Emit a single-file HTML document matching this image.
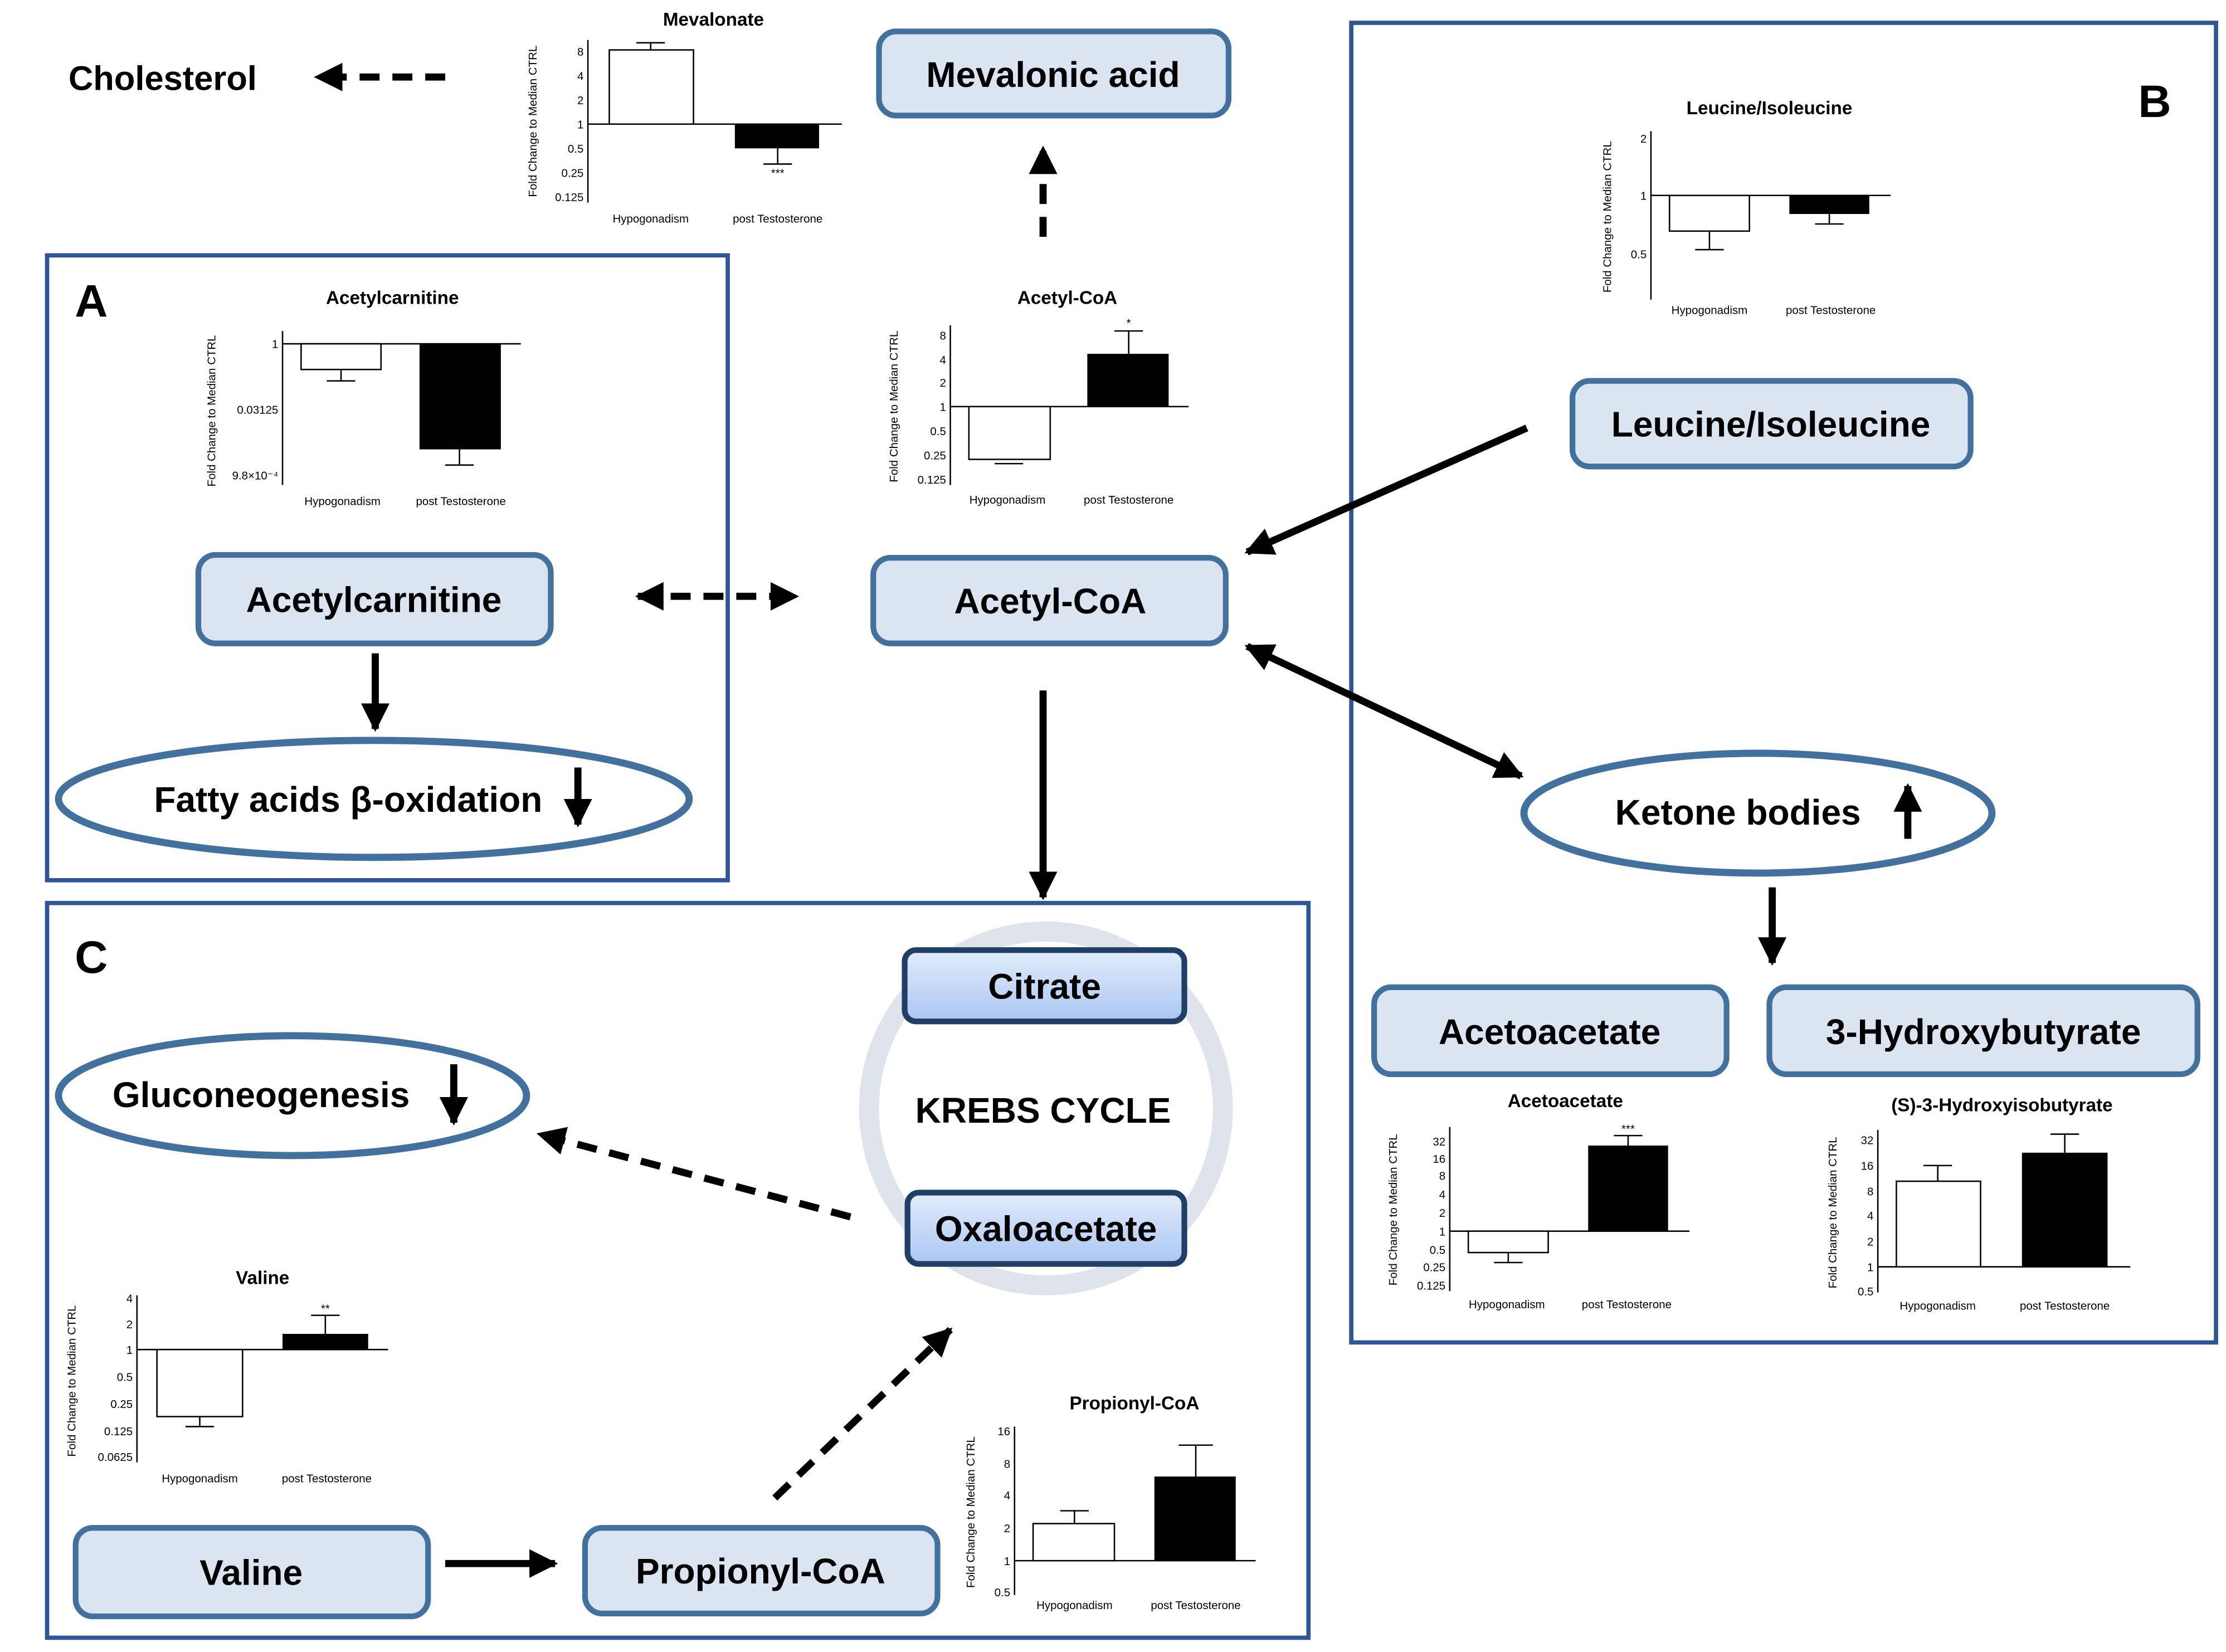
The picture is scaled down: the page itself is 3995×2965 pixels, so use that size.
<!DOCTYPE html>
<html><head><meta charset="utf-8"><style>
html,body{margin:0;padding:0;background:#fff}
svg{display:block}
text{font-family:"Liberation Sans",sans-serif}
.n{font-weight:bold;font-size:25px;text-anchor:middle}
.t{font-size:13px;text-anchor:middle;font-weight:bold}
.k{font-size:8px;text-anchor:end}
.l{font-size:8px;text-anchor:middle}
.ax{stroke:#000;stroke-width:1;fill:none}
.node{fill:#dbe5f1;stroke:#41719c;stroke-width:4}
.ell{fill:#fff;stroke:#41719c;stroke-width:5}
.pan{fill:none;stroke:#2f5597;stroke-width:3}
.ar{stroke:#000;stroke-width:5;fill:none}
.da{stroke:#000;stroke-width:5;fill:none;stroke-dasharray:14 9}
</style></head><body>
<svg width="3995" height="2965" viewBox="0 0 1560 1158" preserveAspectRatio="none" xmlns="http://www.w3.org/2000/svg">
<defs>
<marker id="h" viewBox="0 0 10 10" refX="9" refY="5" markerWidth="4" markerHeight="4" orient="auto-start-reverse" markerUnits="strokeWidth"><path d="M0,0L10,5L0,10z"/></marker>
<linearGradient id="g" x1="0" y1="0" x2="0" y2="1"><stop offset="0" stop-color="#e3ecfb"/><stop offset="1" stop-color="#a9c6f2"/></linearGradient>
</defs>
<rect x="0" y="0" width="1560" height="1158" fill="#fff"/>
<rect class="pan" x="33" y="179" width="477" height="438"/>
<rect class="pan" x="947" y="16" width="606" height="925"/>
<rect class="pan" x="33" y="633" width="884" height="515"/>
<text x="64" y="222" font-size="32" font-weight="bold" text-anchor="middle">A</text>
<text x="1510" y="82" font-size="32" font-weight="bold" text-anchor="middle">B</text>
<text x="64" y="682" font-size="32" font-weight="bold" text-anchor="middle">C</text>
<text x="114" y="63" font-size="24" font-weight="bold" text-anchor="middle">Cholesterol</text>

<circle cx="733" cy="777" r="124" fill="none" stroke="#dfe4ec" stroke-width="14"/>
<text x="731" y="787" class="n" font-size="24">KREBS CYCLE</text>

<rect class="node" x="616" y="22" width="245" height="59" rx="12"/><text class="n" x="738" y="61">Mevalonic acid</text>
<rect class="node" x="1102" y="267" width="279" height="60" rx="12"/><text class="n" x="1241" y="306">Leucine/Isoleucine</text>
<rect class="node" x="139" y="389" width="247" height="62" rx="12"/><text class="n" x="262" y="429">Acetylcarnitine</text>
<rect class="node" x="612" y="391" width="247" height="60" rx="12"/><text class="n" x="736" y="430">Acetyl-CoA</text>
<rect class="node" x="963" y="692" width="247" height="61" rx="12"/><text class="n" x="1086" y="732">Acetoacetate</text>
<rect class="node" x="1240" y="692" width="300" height="61" rx="12"/><text class="n" x="1390" y="732">3-Hydroxybutyrate</text>
<rect class="node" x="53" y="1071" width="247" height="62" rx="12"/><text class="n" x="176" y="1111">Valine</text>
<rect class="node" x="410" y="1071" width="247" height="60" rx="12"/><text class="n" x="533" y="1110">Propionyl-CoA</text>
<rect x="634" y="666" width="196" height="50" rx="8" fill="url(#g)" stroke="#1f3f66" stroke-width="4"/><text class="n" x="732" y="700">Citrate</text>
<rect x="636" y="836" width="194" height="50" rx="8" fill="url(#g)" stroke="#1f3f66" stroke-width="4"/><text class="n" x="733" y="870">Oxaloacetate</text>

<ellipse class="ell" cx="262" cy="560" rx="221" ry="41"/><text class="n" x="244" y="569">Fatty acids β-oxidation</text>
<ellipse class="ell" cx="1232" cy="570" rx="164" ry="42"/><text class="n" x="1218" y="578">Ketone bodies</text>
<ellipse class="ell" cx="205" cy="768" rx="164" ry="42"/><text class="n" x="183" y="776">Gluconeogenesis</text>
<line class="ar" x1="405" y1="538" x2="405" y2="578" marker-end="url(#h)"/>
<line class="ar" x1="1337" y1="588" x2="1337" y2="551" marker-end="url(#h)"/>
<line class="ar" x1="318" y1="746" x2="318" y2="787" marker-end="url(#h)"/>

<line class="da" x1="312" y1="54" x2="222" y2="54" marker-end="url(#h)"/>
<line class="da" x1="731" y1="166" x2="731" y2="104" marker-end="url(#h)"/>
<line class="da" x1="447" y1="418" x2="558" y2="418" marker-start="url(#h)" marker-end="url(#h)"/>
<line class="ar" x1="263" y1="458" x2="263" y2="511" marker-end="url(#h)"/>
<line class="ar" x1="1070" y1="300" x2="874" y2="387" marker-end="url(#h)"/>
<line class="ar" x1="874" y1="453" x2="1066" y2="544" marker-start="url(#h)" marker-end="url(#h)"/>
<line class="ar" x1="731" y1="484" x2="731" y2="629" marker-end="url(#h)"/>
<line class="ar" x1="1242" y1="622" x2="1242" y2="675" marker-end="url(#h)"/>
<line class="da" x1="596" y1="853" x2="378" y2="795" marker-end="url(#h)"/>
<line class="ar" x1="312" y1="1096" x2="389" y2="1096" marker-end="url(#h)"/>
<line class="da" x1="543" y1="1050" x2="666" y2="932" marker-end="url(#h)"/>

<g>
<text class="t" x="500" y="18">Mevalonate</text>
<line class="ax" x1="412" y1="28" x2="412" y2="142"/><line class="ax" x1="412" y1="87" x2="590" y2="87"/>
<text class="k" x="409" y="39">8</text><text class="k" x="409" y="56">4</text><text class="k" x="409" y="73">2</text><text class="k" x="409" y="90">1</text><text class="k" x="409" y="107">0.5</text><text class="k" x="409" y="124">0.25</text><text class="k" x="409" y="141">0.125</text>
<rect x="427" y="35" width="59" height="52" fill="#fff" stroke="#000"/><line class="ax" x1="456" y1="35" x2="456" y2="30"/><line class="ax" x1="446" y1="30" x2="466" y2="30"/>
<rect x="515" y="87" width="59" height="17" fill="#000"/><line class="ax" x1="545" y1="104" x2="545" y2="115"/><line class="ax" x1="535" y1="115" x2="555" y2="115"/>
<text class="l" x="545" y="124" font-size="6">***</text>
<text class="l" x="456" y="156">Hypogonadism</text><text class="l" x="545" y="156">post Testosterone</text>
<text class="l" transform="translate(376,85) rotate(-90)">Fold  Change to  Median CTRL</text>
</g>

<g>
<text class="t" x="275" y="213">Acetylcarnitine</text>
<line class="ax" x1="198" y1="232" x2="198" y2="340"/><line class="ax" x1="198" y1="241" x2="365" y2="241"/>
<text class="k" x="195" y="244">1</text><text class="k" x="195" y="290">0.03125</text><text class="k" x="195" y="336">9.8×10⁻⁴</text>
<rect x="211" y="241" width="56" height="18" fill="#fff" stroke="#000"/><line class="ax" x1="239" y1="259" x2="239" y2="267"/><line class="ax" x1="229" y1="267" x2="249" y2="267"/>
<rect x="294" y="241" width="57" height="74" fill="#000"/><line class="ax" x1="322" y1="315" x2="322" y2="326"/><line class="ax" x1="312" y1="326" x2="332" y2="326"/>
<text class="l" x="240" y="354">Hypogonadism</text><text class="l" x="323" y="354">post Testosterone</text>
<text class="l" transform="translate(151,288) rotate(-90)">Fold  Change to  Median CTRL</text>
</g>

<g>
<text class="t" x="748" y="213">Acetyl-CoA</text>
<line class="ax" x1="666" y1="228" x2="666" y2="340"/><line class="ax" x1="666" y1="285" x2="833" y2="285"/>
<text class="k" x="663" y="238">8</text><text class="k" x="663" y="255">4</text><text class="k" x="663" y="271">2</text><text class="k" x="663" y="288">1</text><text class="k" x="663" y="305">0.5</text><text class="k" x="663" y="322">0.25</text><text class="k" x="663" y="339">0.125</text>
<rect x="679" y="285" width="57" height="37" fill="#fff" stroke="#000"/><line class="ax" x1="697" y1="325" x2="717" y2="325"/>
<rect x="762" y="248" width="57" height="37" fill="#000"/><line class="ax" x1="791" y1="248" x2="791" y2="232"/><line class="ax" x1="781" y1="232" x2="801" y2="232"/>
<text class="l" x="791" y="229" font-size="6">*</text>
<text class="l" x="706" y="353">Hypogonadism</text><text class="l" x="791" y="353">post Testosterone</text>
<text class="l" transform="translate(629,285) rotate(-90)">Fold  Change to  Median CTRL</text>
</g>

<g>
<text class="t" x="1240" y="80">Leucine/Isoleucine</text>
<line class="ax" x1="1157" y1="92" x2="1157" y2="210"/><line class="ax" x1="1157" y1="137" x2="1325" y2="137"/>
<text class="k" x="1154" y="100">2</text><text class="k" x="1154" y="140">1</text><text class="k" x="1154" y="181">0.5</text>
<rect x="1170" y="137" width="56" height="25" fill="#fff" stroke="#000"/><line class="ax" x1="1198" y1="162" x2="1198" y2="175"/><line class="ax" x1="1188" y1="175" x2="1208" y2="175"/>
<rect x="1254" y="137" width="56" height="13" fill="#000"/><line class="ax" x1="1282" y1="150" x2="1282" y2="157"/><line class="ax" x1="1272" y1="157" x2="1292" y2="157"/>
<text class="l" x="1198" y="220">Hypogonadism</text><text class="l" x="1283" y="220">post Testosterone</text>
<text class="l" transform="translate(1129,152) rotate(-90)">Fold  Change to  Median CTRL</text>
</g>

<g>
<text class="t" x="1097" y="776">Acetoacetate</text>
<line class="ax" x1="1016" y1="790" x2="1016" y2="905"/><line class="ax" x1="1016" y1="863" x2="1184" y2="863"/>
<text class="k" x="1013" y="803">32</text><text class="k" x="1013" y="815">16</text><text class="k" x="1013" y="827">8</text><text class="k" x="1013" y="840">4</text><text class="k" x="1013" y="853">2</text><text class="k" x="1013" y="866">1</text><text class="k" x="1013" y="879">0.5</text><text class="k" x="1013" y="891">0.25</text><text class="k" x="1013" y="904">0.125</text>
<rect x="1029" y="863" width="56" height="15" fill="#fff" stroke="#000"/><line class="ax" x1="1057" y1="878" x2="1057" y2="885"/><line class="ax" x1="1047" y1="885" x2="1067" y2="885"/>
<rect x="1113" y="803" width="56" height="60" fill="#000"/><line class="ax" x1="1141" y1="803" x2="1141" y2="796"/><line class="ax" x1="1131" y1="796" x2="1151" y2="796"/>
<text class="l" x="1141" y="794" font-size="6">***</text>
<text class="l" x="1056" y="917">Hypogonadism</text><text class="l" x="1140" y="917">post Testosterone</text>
<text class="l" transform="translate(979,848) rotate(-90)">Fold  Change to  Median CTRL</text>
</g>

<g>
<text class="t" x="1403" y="779">(S)-3-Hydroxyisobutyrate</text>
<line class="ax" x1="1316" y1="792" x2="1316" y2="906"/><line class="ax" x1="1316" y1="888" x2="1493" y2="888"/>
<text class="k" x="1313" y="802">32</text><text class="k" x="1313" y="820">16</text><text class="k" x="1313" y="838">8</text><text class="k" x="1313" y="855">4</text><text class="k" x="1313" y="873">2</text><text class="k" x="1313" y="891">1</text><text class="k" x="1313" y="908">0.5</text>
<rect x="1329" y="828" width="59" height="60" fill="#fff" stroke="#000"/><line class="ax" x1="1358" y1="828" x2="1358" y2="817"/><line class="ax" x1="1348" y1="817" x2="1368" y2="817"/>
<rect x="1417" y="808" width="60" height="80" fill="#000"/><line class="ax" x1="1447" y1="808" x2="1447" y2="795"/><line class="ax" x1="1437" y1="795" x2="1457" y2="795"/>
<text class="l" x="1358" y="918">Hypogonadism</text><text class="l" x="1447" y="918">post Testosterone</text>
<text class="l" transform="translate(1287,850) rotate(-90)">Fold  Change to  Median CTRL</text>
</g>

<g>
<text class="t" x="184" y="900">Valine</text>
<line class="ax" x1="96" y1="908" x2="96" y2="1025"/><line class="ax" x1="96" y1="946" x2="272" y2="946"/>
<text class="k" x="93" y="913">4</text><text class="k" x="93" y="931">2</text><text class="k" x="93" y="949">1</text><text class="k" x="93" y="968">0.5</text><text class="k" x="93" y="987">0.25</text><text class="k" x="93" y="1006">0.125</text><text class="k" x="93" y="1024">0.0625</text>
<rect x="110" y="946" width="60" height="47" fill="#fff" stroke="#000"/><line class="ax" x1="140" y1="993" x2="140" y2="1000"/><line class="ax" x1="130" y1="1000" x2="150" y2="1000"/>
<rect x="198" y="935" width="60" height="11" fill="#000"/><line class="ax" x1="228" y1="935" x2="228" y2="922"/><line class="ax" x1="218" y1="922" x2="238" y2="922"/>
<text class="l" x="228" y="920" font-size="6">**</text>
<text class="l" x="140" y="1039">Hypogonadism</text><text class="l" x="229" y="1039">post Testosterone</text>
<text class="l" transform="translate(53,968) rotate(-90)">Fold  Change to  Median CTRL</text>
</g>

<g>
<text class="t" x="795" y="988">Propionyl-CoA</text>
<line class="ax" x1="711" y1="1000" x2="711" y2="1118"/><line class="ax" x1="711" y1="1094" x2="880" y2="1094"/>
<text class="k" x="708" y="1006">16</text><text class="k" x="708" y="1029">8</text><text class="k" x="708" y="1051">4</text><text class="k" x="708" y="1074">2</text><text class="k" x="708" y="1097">1</text><text class="k" x="708" y="1119">0.5</text>
<rect x="724" y="1068" width="57" height="26" fill="#fff" stroke="#000"/><line class="ax" x1="753" y1="1068" x2="753" y2="1059"/><line class="ax" x1="743" y1="1059" x2="763" y2="1059"/>
<rect x="809" y="1035" width="57" height="59" fill="#000"/><line class="ax" x1="838" y1="1035" x2="838" y2="1013"/><line class="ax" x1="826" y1="1013" x2="850" y2="1013"/>
<text class="l" x="753" y="1128">Hypogonadism</text><text class="l" x="838" y="1128">post Testosterone</text>
<text class="l" transform="translate(683,1060) rotate(-90)">Fold  Change to  Median CTRL</text>
</g>
</svg>
</body></html>
